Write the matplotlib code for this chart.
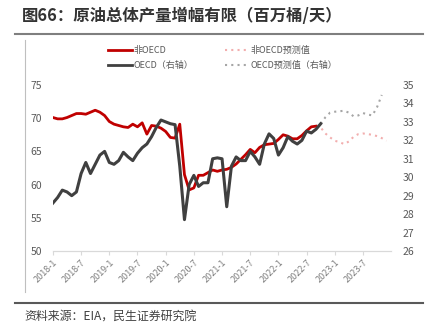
import matplotlib
matplotlib.use("Agg")
import matplotlib.pyplot as plt
from matplotlib.lines import Line2D
import numpy as np

plt.rcParams['font.family'] = ['Noto Sans CJK SC', 'DejaVu Sans']

# 月度序列: 2018-1 起
tick_labels = ['2018-1', '2018-7', '2019-1', '2019-7', '2020-1', '2020-7',
               '2021-1', '2021-7', '2022-1', '2022-7', '2023-1', '2023-7']

# 非OECD (左轴), 2018-1 .. 2022-9
non_oecd = [70.1, 69.9, 69.9, 70.1, 70.4, 70.7, 70.7, 70.6, 70.9, 71.2,
            70.9, 70.4, 69.5, 69.1, 68.9, 68.7, 68.6, 69.1, 68.7, 69.3,
            67.6, 68.9, 68.8, 68.5, 68.0, 67.1, 67.0, 69.1, 61.5, 59.2,
            59.5, 61.4, 61.4, 61.8, 62.2, 62.0, 62.2, 62.3, 62.6, 63.1,
            63.8, 64.5, 65.3, 64.8, 65.6, 66.0, 66.1, 66.2, 66.8, 67.5,
            67.3, 66.9, 66.9, 67.4, 68.1, 68.7, 68.8]
# 非OECD预测值, 2022-9 .. 2023-12
non_oecd_fc = [68.8, 68.6, 67.7, 67.1, 66.6, 66.4, 66.1, 66.5, 67.2, 67.6,
               67.7, 67.6, 67.5, 67.3, 67.0, 66.6]

# OECD (右轴), 2018-1 .. 2022-10
oecd = [28.6, 28.9, 29.3, 29.2, 29.0, 29.2, 30.2, 30.8, 30.2, 30.7,
        31.2, 31.4, 30.8, 30.7, 30.9, 31.35, 31.1, 30.9, 31.3, 31.6,
        31.8, 32.2, 32.7, 33.1, 33.0, 32.9, 32.85, 30.6, 27.7, 29.6,
        30.1, 29.5, 29.7, 29.7, 31.0, 31.05, 31.0, 28.4, 30.6, 31.1,
        30.9, 30.9, 31.4, 31.1, 30.7, 31.8, 32.35, 32.1, 31.2, 31.6,
        32.2, 31.95, 31.8, 32.0, 32.5, 32.4, 32.6, 32.9]
# OECD预测值, 2022-10 .. 2023-11
oecd_fc = [32.9, 33.25, 33.5, 33.55, 33.58, 33.6, 33.5, 33.3, 33.35, 33.48,
           33.4, 33.35, 33.8, 34.46]

x_non = np.arange(len(non_oecd))
x_non_fc = np.arange(len(non_oecd) - 1, len(non_oecd) - 1 + len(non_oecd_fc))
x_oecd = np.arange(len(oecd))
x_oecd_fc = np.arange(len(oecd) - 1, len(oecd) - 1 + len(oecd_fc))

red = '#C00000'
dark = '#404040'
pink = '#F2AEAE'
lgray = '#A6A6A6'
txt = '#595959'

fig = plt.figure(figsize=(4.41, 3.32), dpi=100)
ax = fig.add_axes([0.120, 0.244, 0.767, 0.500])
ax2 = ax.twinx()

ax.plot(x_non, non_oecd, color=red, lw=2, zorder=3)
ax.plot(x_non_fc, non_oecd_fc, color=pink, lw=1.5, ls=(0, (1, 2)), zorder=2)
ax2.plot(x_oecd, oecd, color=dark, lw=2.2, zorder=3)
ax2.plot(x_oecd_fc, oecd_fc, color=lgray, lw=1.5, ls=(0, (1, 2)), zorder=2)

ax.set_xlim(0, 72)
ax.set_ylim(50, 75)
ax2.set_ylim(26, 35)
ax.set_yticks(np.arange(50, 76, 5))
ax2.set_yticks(np.arange(26, 36, 1))
ax.set_xticks(np.arange(0, 72, 6))
ax.set_xticklabels(tick_labels, rotation=45, ha='right', rotation_mode='anchor')

for a in (ax, ax2):
    for s in ('top', 'left', 'right'):
        a.spines[s].set_visible(False)
    a.spines['bottom'].set_color('#D9D9D9')
    a.tick_params(axis='y', length=0, labelsize=7.5, colors=txt, pad=8)
ax.tick_params(axis='x', length=3, color='#D9D9D9', labelsize=6.5,
               labelcolor='#7F7F7F', pad=2)

handles = [Line2D([], [], color=red, lw=2),
           Line2D([], [], color=dark, lw=2),
           Line2D([], [], color=pink, lw=1.5, ls=(0, (1, 2))),
           Line2D([], [], color=lgray, lw=1.5, ls=(0, (1, 2)))]
labels = ['非OECD', 'OECD（右轴）', '非OECD预测值', 'OECD预测值（右轴）']
leg = fig.legend(handles, labels, ncol=2, loc='center', bbox_to_anchor=(0.505, 0.825),
                 frameon=False, fontsize=6.5, handlelength=2.6, handletextpad=0.2,
                 columnspacing=3.5, labelspacing=0.6)
for t in leg.get_texts():
    t.set_color(txt)

fig.text(0.05, 0.952, '图66：原油总体产量增幅有限（百万桶/天）', fontsize=11.8,
         fontweight='bold', color='#333333', va='center')
fig.add_artist(Line2D([0.034, 0.96], [0.898, 0.898], color='#7F7F7F', lw=1.5))
fig.add_artist(Line2D([0.057, 0.057], [0.12, 0.88], color='#BFBFBF', lw=0.8))
fig.add_artist(Line2D([0.034, 0.96], [0.087, 0.087], color='#595959', lw=1.5))
fig.text(0.055, 0.048, '资料来源：EIA，民生证券研究院', fontsize=8.6, color='#404040',
         va='center')

fig.savefig('out.png', dpi=100)
